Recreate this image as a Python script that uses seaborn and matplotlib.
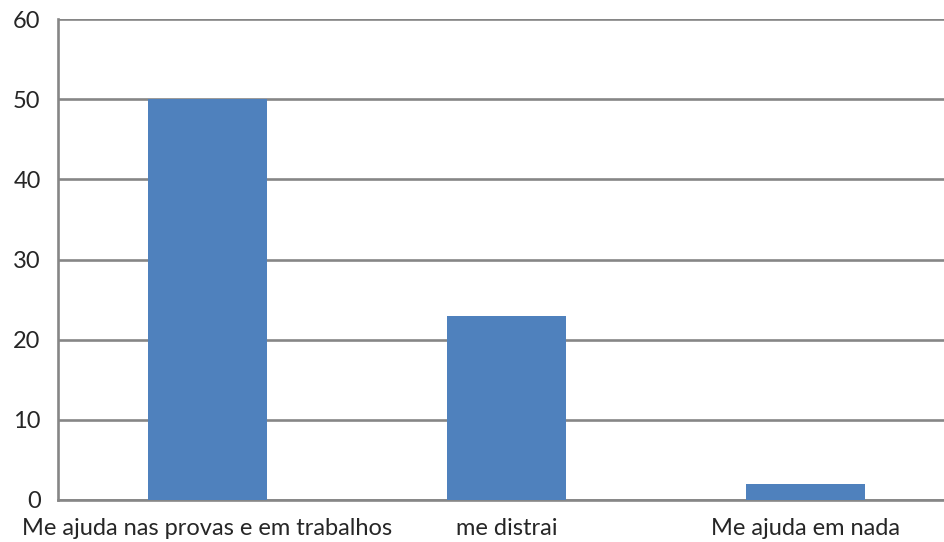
import matplotlib
matplotlib.use("Agg")
import matplotlib.pyplot as plt
import seaborn as sns
import pandas as pd

categories = ["Me ajuda nas provas e em trabalhos", "me distrai", "Me ajuda em nada"]
values = [50, 23, 2]
y_ticks = [0, 10, 20, 30, 40, 50, 60]

sns.set_style("white")
plt.rcParams['font.family'] = ['Lato', 'DejaVu Sans']

df = pd.DataFrame({"cat": categories, "val": values})

fig = plt.figure(figsize=(9.45, 5.42), dpi=100)
W, H = 945, 542
ax = fig.add_axes([58 / W, 42 / H, 897 / W, 481 / H])

sns.barplot(data=df, x="cat", y="val", color="#4F81BD", width=0.4,
            saturation=1, linewidth=0, edgecolor="none", ax=ax, zorder=3)

grid_c = "#868686"
ax.set_ylim(0, 60)
ax.set_xlim(-0.5, len(categories) - 0.5)
ax.set_yticks(y_ticks)
ax.set_yticklabels([str(t) for t in y_ticks], fontsize=17)
ax.yaxis.grid(True, color=grid_c, linewidth=1.9, zorder=0)
ax.set_axisbelow(True)

# category boundaries as major ticks, labels as minor
ax.set_xticks([i - 0.5 for i in range(len(categories) + 1)])
ax.set_xticklabels([])
ax.set_xticks(range(len(categories)), minor=True)
ax.set_xticklabels(categories, minor=True, fontsize=17)
ax.tick_params(axis="x", which="major", length=8, width=1.9, color=grid_c, direction="out")
ax.tick_params(axis="x", which="minor", length=0, pad=13)
ax.tick_params(axis="y", length=8.5, width=1.9, color=grid_c, direction="out", pad=4)

for s in ["top", "right"]:
    ax.spines[s].set_visible(False)
for s in ["left", "bottom"]:
    ax.spines[s].set_color(grid_c)
    ax.spines[s].set_linewidth(1.9)

ax.set_xlabel("")
ax.set_ylabel("")

fig.savefig("out.png", dpi=100)
